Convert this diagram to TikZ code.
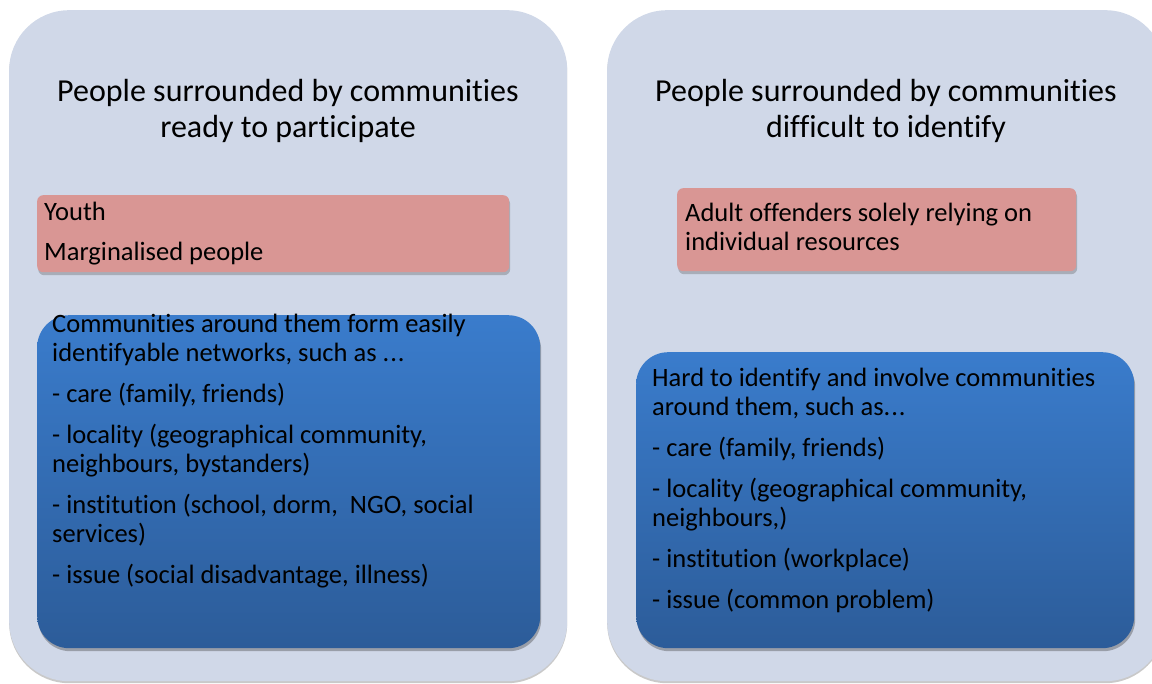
\documentclass[tikz,border=0pt]{standalone}
\usepackage{fontspec}
\setmainfont{Carlito}[RawFeature={-liga;-clig}]
\usetikzlibrary{shadows}
\definecolor{outerfill}{HTML}{D0D8E8}
\definecolor{pinkfill}{HTML}{D99694}
\definecolor{bluetop}{HTML}{3A7CCC}
\definecolor{bluebot}{HTML}{2C5C99}
\tikzset{
  outerbox/.style={fill=outerfill, rounded corners=60pt, inner sep=0pt, anchor=north west,
    drop shadow={shadow xshift=0pt, shadow yshift=-2pt, opacity=.3, fill=black!70}},
  pinkbox/.style={fill=pinkfill, rounded corners=6pt, inner sep=0pt, anchor=north west,
    drop shadow={shadow xshift=1pt, shadow yshift=-3pt, opacity=.3, fill=black!70}},
  bluebox/.style={top color=bluetop, bottom color=bluebot, rounded corners=32pt, inner sep=0pt, anchor=north west,
    drop shadow={shadow xshift=1pt, shadow yshift=-3pt, opacity=.35, fill=black!80}},
  titletext/.style={inner sep=0pt, anchor=base, font=\fontsize{32}{35.5}\selectfont},
  bodytext/.style={inner sep=0pt, anchor=base west, font=\fontsize{26.5}{29}\selectfont},
}
\newcommand{\bodypar}[2]{\begin{minipage}[t]{#1}\raggedright\setlength{\parskip}{12pt}#2\end{minipage}}
\begin{document}
\begin{tikzpicture}[x=1pt,y=-1pt]
\useasboundingbox (0,0) rectangle (1152,684);
\clip (0,0) rectangle (1152,684);
% outer panels
\node (outerL) [outerbox, minimum width=558pt, minimum height=671pt] at (9,10) {};
\node (outerR) [outerbox, minimum width=558pt, minimum height=671pt] at (607,10) {};
% titles
\node (titleL) [titletext] at (288,102) {\begin{minipage}[t]{540pt}\centering People surrounded by communities\\ ready to participate\end{minipage}};
\node (titleR) [titletext] at (886,102) {\begin{minipage}[t]{540pt}\centering People surrounded by communities\\ difficult to identify\end{minipage}};
% pink boxes
\node (pinkL) [pinkbox, minimum width=472pt, minimum height=77pt] at (37,195) {};
\node (pinkR) [pinkbox, minimum width=399pt, minimum height=83pt] at (677,188) {};
\node (pinkLt) [bodytext] at (44,221) {\bodypar{460pt}{\setlength{\parskip}{11pt}Youth\par Marginalised people}};
\node (pinkRt) [bodytext] at (685,222) {\bodypar{390pt}{Adult offenders solely relying on\\ individual resources}};
% blue boxes
\node (blueL) [bluebox, minimum width=503pt, minimum height=333pt] at (37,315) {};
\node (blueR) [bluebox, minimum width=498pt, minimum height=296pt] at (636,352) {};
\node (blueLt) [bodytext] at (52,333) {\bodypar{490pt}{Communities around them form easily\\ identifyable networks, such as .\kern1pt.\kern1pt.\par
- care (family, friends)\par
- locality (geographical community,\\ neighbours, bystanders)\par
- institution (school, dorm,\ \ NGO, social\\ services)\par
- issue (social disadvantage, illness)}};
\node (blueRt) [bodytext] at (652,387) {\bodypar{480pt}{Hard to identify and involve communities\\ around them, such as.\kern1pt.\kern1pt.\par
- care (family, friends)\par
- locality (geographical community,\\ neighbours,)\par
- institution (workplace)\par
- issue (common problem)}};
\end{tikzpicture}
\end{document}
